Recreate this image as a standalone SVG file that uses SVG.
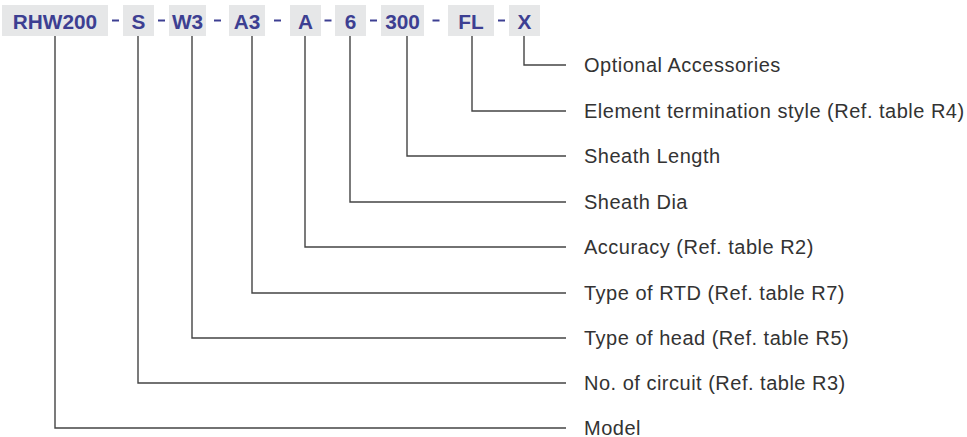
<svg xmlns="http://www.w3.org/2000/svg" width="967" height="437" viewBox="0 0 967 437">
<style>
.box{fill:#e6e7e8}
.code{font-family:"Liberation Sans",Arial,sans-serif;font-weight:bold;font-size:20.8px;fill:#3d3f92;text-anchor:middle}
.dash{stroke:#3d3f92;stroke-width:2}
.lbl{font-family:"Liberation Sans",Arial,sans-serif;font-size:20px;letter-spacing:0.5px;fill:#333333}
.conn{fill:none;stroke:#444444;stroke-width:1.4}
</style>
<rect width="967" height="437" fill="#ffffff"/>
<g id="codes">
<g id="n-rhw200"><rect class="box" x="2" y="5" width="106" height="31"/><text class="code" x="55" y="28.5">RHW200</text></g>
<g id="n-s"><rect class="box" x="123" y="5" width="31" height="31"/><text class="code" x="138.5" y="28.5">S</text></g>
<g id="n-w3"><rect class="box" x="169" y="5" width="37" height="31"/><text class="code" x="187.5" y="28.5">W3</text></g>
<g id="n-a3"><rect class="box" x="229" y="5" width="36" height="31"/><text class="code" x="247" y="28.5">A3</text></g>
<g id="n-a"><rect class="box" x="290" y="5" width="31" height="31"/><text class="code" x="305.5" y="28.5">A</text></g>
<g id="n-6"><rect class="box" x="335" y="5" width="31" height="31"/><text class="code" x="350.5" y="28.5">6</text></g>
<g id="n-300"><rect class="box" x="381" y="5" width="43" height="31"/><text class="code" x="402.5" y="28.5">300</text></g>
<g id="n-fl"><rect class="box" x="448" y="5" width="46" height="31"/><text class="code" x="471" y="28.5">FL</text></g>
<g id="n-x"><rect class="box" x="509" y="5" width="31" height="31"/><text class="code" x="524.5" y="28.5">X</text></g>
</g>
<g id="dashes">
<line class="dash" x1="112" y1="20.5" x2="119" y2="20.5"/>
<line class="dash" x1="158" y1="20.5" x2="165" y2="20.5"/>
<line class="dash" x1="214" y1="20.5" x2="221" y2="20.5"/>
<line class="dash" x1="274" y1="20.5" x2="281" y2="20.5"/>
<line class="dash" x1="324.5" y1="20.5" x2="331.5" y2="20.5"/>
<line class="dash" x1="370" y1="20.5" x2="377" y2="20.5"/>
<line class="dash" x1="432.5" y1="20.5" x2="439.5" y2="20.5"/>
<line class="dash" x1="498" y1="20.5" x2="505" y2="20.5"/>
</g>
<g id="connectors">
<polyline class="conn" points="524,36 524,65 566,65"/>
<polyline class="conn" points="472,36 472,111 566,111"/>
<polyline class="conn" points="407,36 407,156 566,156"/>
<polyline class="conn" points="350,36 350,202 566,202"/>
<polyline class="conn" points="305,36 305,247 566,247"/>
<polyline class="conn" points="252,36 252,293 566,293"/>
<polyline class="conn" points="192,36 192,338 566,338"/>
<polyline class="conn" points="138,36 138,383 566,383"/>
<polyline class="conn" points="55,36 55,428 566,428"/>
</g>
<g id="labels">
<g id="l-x"><text class="lbl" x="584" y="72">Optional Accessories</text></g>
<g id="l-fl"><text class="lbl" x="584" y="118">Element termination style (Ref. table R4)</text></g>
<g id="l-300"><text class="lbl" x="584" y="163">Sheath Length</text></g>
<g id="l-6"><text class="lbl" x="584" y="209">Sheath Dia</text></g>
<g id="l-a"><text class="lbl" x="584" y="254">Accuracy (Ref. table R2)</text></g>
<g id="l-a3"><text class="lbl" x="584" y="300">Type of RTD (Ref. table R7)</text></g>
<g id="l-w3"><text class="lbl" x="584" y="345">Type of head (Ref. table R5)</text></g>
<g id="l-s"><text class="lbl" x="584" y="390">No. of circuit (Ref. table R3)</text></g>
<g id="l-rhw"><text class="lbl" x="584" y="434.5">Model</text></g>
</g>
</svg>
